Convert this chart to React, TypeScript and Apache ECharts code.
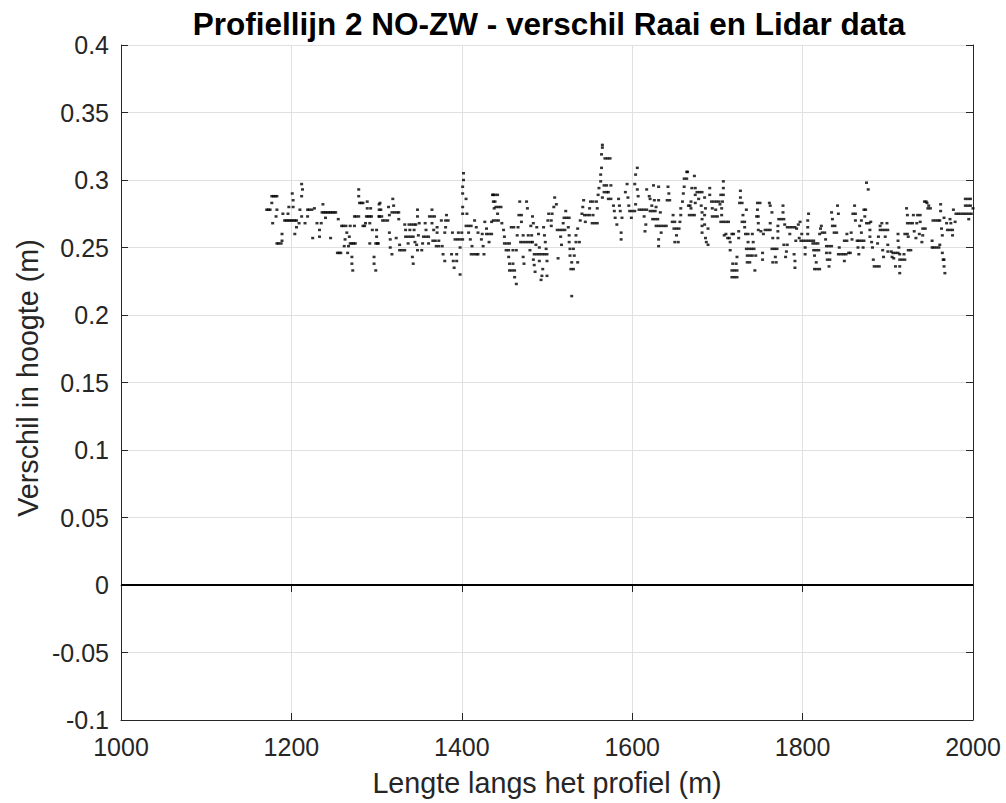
import React, { useEffect, useRef } from "react";
import * as echarts from "echarts";

const titleText = "Profiellijn 2 NO-ZW - verschil Raai en Lidar data";
const xName = "Lengte langs het profiel (m)";
const yName = "Verschil in hoogte (m)";
const xMin = 1000, xMax = 2000, xStep = 200;
const yMin = -0.1, yMax = 0.4, yStep = 0.05;
const zeroLevel = 0;

const seg1 = [
[1171,0.278],[1173,0.278],[1175,0.278],
[1177,0.288],[1179,0.288],[1181,0.288],[1183,0.288],
[1177,0.283],[1178,0.268],[1182,0.273],[1183,0.278],
[1183,0.253],[1185,0.253],[1188,0.253],
[1189,0.255],[1189,0.260],[1190,0.275],
[1192,0.270],[1194,0.270],[1196,0.270],[1198,0.270],[1200,0.270],[1202,0.270],[1204,0.270],[1206,0.270],
[1196,0.275],[1197,0.280],[1201,0.290],[1202,0.285],[1202,0.280],[1204,0.260],[1206,0.265],[1209,0.268],[1210,0.278],
[1212,0.297],[1213,0.293],[1212,0.288],[1212,0.273],[1216,0.268],[1219,0.273],
[1219,0.278],[1221,0.278],[1224,0.278],[1227,0.279],
[1225,0.257],[1230,0.268],[1235,0.268],[1233,0.263],[1233,0.258],[1237,0.282],
[1236,0.276],[1238,0.276],[1240,0.276],[1242,0.276],[1244,0.276],[1246,0.276],[1248,0.276],[1250,0.276],[1252,0.276],
[1240,0.272],[1246,0.257],[1255,0.271],
[1259,0.266],[1261,0.266],[1264,0.266],[1265,0.261],[1263,0.256],[1262,0.251],[1267,0.251],
[1254,0.246],[1256,0.246],[1258,0.246],[1266,0.246],
[1269,0.266],[1274,0.266],[1268,0.258],
[1269,0.253],[1271,0.253],[1273,0.253],[1275,0.253],
[1271,0.243],[1271,0.238],[1272,0.233],
[1274,0.273],[1276,0.273],[1279,0.273],[1279,0.288],[1279,0.293],
[1280,0.283],[1282,0.283],[1284,0.283],[1284,0.266],[1286,0.266],
[1289,0.284],[1289,0.279],[1293,0.279],
[1288,0.273],[1290,0.273],[1292,0.273],[1294,0.273],
[1287,0.268],[1292,0.268],[1292,0.253],[1295,0.263],[1300,0.263],
[1297,0.243],[1297,0.238],[1299,0.233],[1301,0.253],[1303,0.273],[1303,0.278],[1303,0.282]
];

const seg2 = [
[1300,0.258],[1299,0.253],[1302,0.253],[1304,0.283],[1305,0.278],[1303,0.273],[1306,0.273],
[1307,0.270],[1310,0.270],[1313,0.270],[1314,0.280],[1315,0.274],[1315,0.261],[1316,0.256],[1316,0.250],[1318,0.245],
[1319,0.286],[1320,0.281],[1318,0.276],[1321,0.276],[1324,0.276],[1326,0.276],
[1323,0.257],[1326,0.271],[1327,0.252],[1327,0.248],[1330,0.248],[1333,0.248],
[1333,0.267],[1334,0.263],[1334,0.258],[1337,0.253],
[1338,0.267],[1341,0.267],[1344,0.267],[1346,0.267],[1339,0.263],
[1337,0.258],[1340,0.258],[1343,0.258],[1342,0.243],[1343,0.238],[1344,0.263],[1345,0.254],[1347,0.252],
[1348,0.278],[1348,0.273],[1350,0.268],[1349,0.259],[1348,0.248],[1353,0.248],[1354,0.253],
[1357,0.268],[1358,0.263],[1355,0.258],[1358,0.258],[1361,0.258],[1361,0.253],
[1362,0.273],[1365,0.273],[1368,0.273],[1365,0.278],[1365,0.268],[1367,0.263],
[1366,0.255],[1369,0.255],[1373,0.255],[1371,0.261],[1370,0.251],[1373,0.251],[1377,0.251],[1371,0.265],
[1376,0.270],[1378,0.245],[1380,0.240],[1380,0.261],[1381,0.265],[1381,0.270],[1384,0.270],[1382,0.274],
[1388,0.245],[1389,0.261],[1390,0.240],[1394,0.240],[1391,0.235],[1394,0.245],
[1392,0.256],[1395,0.256],[1398,0.256],[1401,0.256],[1396,0.261],[1398,0.250],[1398,0.230],[1400,0.261],
[1401,0.275],[1401,0.280],[1401,0.290],[1401,0.295],[1402,0.300],[1402,0.305],[1405,0.286],[1406,0.275],
[1405,0.266],[1408,0.266],[1411,0.266],[1408,0.261],[1410,0.256],[1412,0.251],
[1411,0.245],[1414,0.245],[1417,0.245],[1419,0.245],[1415,0.270],[1417,0.265],[1419,0.261],
[1423,0.256],[1424,0.260],[1425,0.251],[1426,0.245],[1427,0.269],[1429,0.264],
[1429,0.260],[1432,0.260],[1435,0.260],[1432,0.254],[1435,0.269],[1437,0.284],[1437,0.289],[1438,0.279]
];

const seg3 = [
[1436,0.289],[1439,0.289],[1442,0.289],[1439,0.284],[1440,0.280],[1443,0.280],[1446,0.280],[1442,0.275],
[1437,0.270],[1440,0.270],[1443,0.270],[1447,0.268],[1449,0.263],[1450,0.258],
[1450,0.253],[1453,0.253],[1456,0.253],[1452,0.248],[1455,0.248],[1455,0.243],
[1456,0.238],[1460,0.238],[1456,0.233],[1459,0.233],[1462,0.233],[1462,0.228],[1464,0.223],
[1460,0.248],[1458,0.265],[1461,0.265],[1464,0.248],[1465,0.259],[1466,0.265],[1468,0.284],
[1467,0.274],[1470,0.274],[1470,0.269],[1472,0.259],[1469,0.254],[1472,0.254],[1475,0.254],[1472,0.243],[1473,0.238],
[1478,0.254],[1481,0.254],[1476,0.284],[1477,0.279],[1478,0.259],[1482,0.259],[1480,0.248],[1481,0.266],
[1483,0.273],[1484,0.268],[1483,0.254],[1484,0.241],[1485,0.237],[1486,0.232],[1487,0.252],[1488,0.265],
[1485,0.245],[1488,0.245],[1491,0.245],[1494,0.245],[1497,0.245],
[1490,0.260],[1491,0.250],[1491,0.240],[1493,0.226],[1494,0.229],[1495,0.234],
[1496,0.265],[1497,0.259],[1498,0.254],[1499,0.249],[1500,0.245],[1500,0.240],[1500,0.229],
[1501,0.270],[1505,0.270],[1502,0.275],[1506,0.275],[1505,0.266],[1508,0.280],[1509,0.287],[1511,0.282],[1513,0.242],
[1512,0.263],[1515,0.263],[1518,0.263],[1521,0.263],[1516,0.258],[1517,0.252],[1519,0.268],
[1520,0.272],[1523,0.272],[1526,0.272],[1522,0.277],[1525,0.265],[1526,0.259],[1526,0.254],[1527,0.249],[1527,0.244],
[1529,0.239],[1528,0.234],[1531,0.234],[1529,0.214],[1531,0.249],[1532,0.244],
[1534,0.254],[1534,0.259],[1536,0.264],[1536,0.239],[1538,0.254],[1539,0.270],[1541,0.275],[1542,0.280],[1543,0.285],
[1545,0.269],[1544,0.274],[1547,0.274],[1550,0.274],[1550,0.279],[1551,0.284],[1554,0.284],[1554,0.274],
[1553,0.268],[1556,0.268],[1559,0.268],[1558,0.284],[1559,0.279],[1560,0.289],[1561,0.294],[1563,0.299],[1563,0.304],
[1564,0.309],[1564,0.319],[1565,0.324],[1565,0.326],[1568,0.316],[1571,0.316],[1574,0.316],[1565,0.287],
[1567,0.296],[1570,0.296],[1567,0.291],[1570,0.291],[1572,0.286]
];

const seg4 = [
[1575,0.296],[1572,0.291],[1575,0.286],[1578,0.281],[1579,0.277],[1580,0.272],[1582,0.267],
[1584,0.286],[1585,0.281],[1586,0.277],[1587,0.261],[1587,0.256],[1588,0.272],
[1592,0.291],[1594,0.297],[1595,0.287],[1596,0.281],[1597,0.277],[1600,0.277],[1603,0.277],[1599,0.272],
[1603,0.297],[1604,0.304],[1606,0.309],[1606,0.293],[1607,0.288],[1604,0.282],
[1608,0.278],[1611,0.278],[1614,0.278],[1617,0.278],[1614,0.273],[1616,0.267],[1615,0.262],
[1617,0.293],[1620,0.288],[1621,0.286],[1621,0.277],[1624,0.277],[1627,0.277],[1623,0.281],[1625,0.296],[1626,0.285],
[1624,0.271],[1627,0.271],[1630,0.271],[1628,0.280],[1631,0.295],[1631,0.285],[1633,0.276],
[1628,0.266],[1631,0.266],[1634,0.266],[1637,0.266],[1640,0.266],[1634,0.261],[1631,0.256],[1631,0.251],
[1642,0.295],[1643,0.290],[1641,0.285],[1644,0.285],[1648,0.274],[1647,0.269],[1650,0.269],
[1649,0.264],[1652,0.264],[1655,0.264],[1652,0.259],[1650,0.254],[1654,0.254],
[1656,0.269],[1657,0.274],[1657,0.279],[1659,0.284],[1660,0.290],[1661,0.295],[1661,0.301],[1664,0.301],[1664,0.306],[1665,0.306],
[1666,0.281],[1668,0.281],[1669,0.284],[1667,0.274],[1670,0.274],[1673,0.274],[1669,0.279],[1670,0.294],[1674,0.294],
[1673,0.303],[1674,0.289],[1674,0.283],[1676,0.291],[1679,0.291],[1682,0.291],[1678,0.286],[1681,0.281],
[1682,0.276],[1682,0.271],[1682,0.261],[1682,0.266],[1685,0.287],[1685,0.267],[1686,0.257],[1687,0.254],[1689,0.252],[1689,0.264],
[1685,0.274],[1686,0.279],[1691,0.294],[1691,0.289],[1693,0.284],[1694,0.279],
[1696,0.284],[1699,0.284],[1702,0.284],[1694,0.273],[1697,0.273],[1700,0.273],[1698,0.278],[1703,0.282],
[1707,0.299],[1707,0.294],[1704,0.289],[1707,0.289],[1705,0.279],[1708,0.259]
];

const seg5 = [
[1706,0.284],[1705,0.274],[1704,0.269],[1707,0.269],[1710,0.269],[1713,0.269],[1710,0.260],[1712,0.257],[1714,0.257],
[1715,0.254],[1715,0.248],[1717,0.260],[1719,0.260],[1718,0.238],
[1717,0.233],[1720,0.233],[1723,0.233],[1717,0.228],[1720,0.228],[1723,0.228],[1722,0.238],[1723,0.243],
[1725,0.262],[1725,0.257],[1727,0.292],[1727,0.287],[1726,0.283],[1729,0.283],[1730,0.274],[1729,0.269],[1732,0.269],
[1734,0.278],[1732,0.265],[1733,0.260],[1736,0.260],[1734,0.249],[1737,0.249],[1740,0.249],[1736,0.254],
[1735,0.244],[1738,0.244],[1741,0.244],[1735,0.239],[1738,0.239],[1741,0.260],[1742,0.254],[1743,0.249],[1744,0.233],[1745,0.244],
[1746,0.273],[1748,0.273],[1747,0.278],[1747,0.283],[1750,0.283],[1748,0.268],[1748,0.263],[1751,0.262],
[1753,0.246],[1753,0.241],[1754,0.260],[1756,0.263],[1759,0.263],[1762,0.263],[1761,0.283],[1762,0.281],[1764,0.276],[1762,0.268],
[1765,0.257],[1764,0.249],[1767,0.249],[1770,0.249],[1765,0.239],[1769,0.239],[1768,0.243],
[1771,0.262],[1771,0.257],[1771,0.266],[1772,0.271],[1775,0.271],[1778,0.271],[1777,0.281],[1777,0.276],[1779,0.267],
[1778,0.252],[1782,0.252],[1781,0.247],[1780,0.243],[1785,0.260],[1782,0.265],[1785,0.265],[1788,0.265],[1791,0.265],
[1790,0.245],[1791,0.240],[1791,0.235],[1792,0.255],[1793,0.264],[1795,0.267],[1796,0.257],[1797,0.269],[1799,0.260],
[1798,0.255],[1801,0.255],[1804,0.255],[1803,0.250],[1803,0.245],[1806,0.260],[1806,0.265],[1806,0.270],[1807,0.275],
[1807,0.255],[1810,0.255],[1813,0.255],[1812,0.253],[1815,0.253],[1818,0.253],[1813,0.248],[1816,0.248],[1819,0.248],
[1816,0.239],[1814,0.234],[1817,0.234],[1820,0.234],[1814,0.244],[1820,0.260],[1821,0.264],[1822,0.266],
[1823,0.261],[1826,0.261],[1827,0.256],[1828,0.251],[1831,0.251],[1834,0.251],[1828,0.246],[1832,0.246],
[1829,0.241],[1832,0.241],[1831,0.236],[1834,0.276],[1835,0.271],[1835,0.266],[1838,0.266],[1837,0.261],[1840,0.261],
[1841,0.281],[1842,0.275],[1843,0.250],[1842,0.245],[1845,0.245],[1848,0.245],[1851,0.245],[1849,0.240],
[1849,0.255],[1852,0.255],[1852,0.260],[1854,0.246]
];

const seg6 = [
[1856,0.246],[1857,0.261],[1858,0.256],[1861,0.281],[1859,0.275],[1862,0.275],[1862,0.270],
[1864,0.255],[1866,0.255],[1865,0.250],[1866,0.245],[1867,0.266],[1869,0.261],[1869,0.255],[1872,0.255],[1869,0.270],[1871,0.250],
[1872,0.278],[1874,0.278],[1873,0.273],[1875,0.298],[1877,0.293],[1875,0.268],[1878,0.268],[1879,0.263],[1879,0.258],[1880,0.269],
[1881,0.254],[1882,0.250],[1883,0.241],[1884,0.236],[1887,0.236],[1890,0.236],[1888,0.253],[1889,0.258],[1891,0.263],[1891,0.266],
[1893,0.268],[1894,0.248],[1895,0.243],[1894,0.263],[1897,0.263],[1900,0.263],[1897,0.258],[1899,0.268],[1900,0.252],
[1900,0.247],[1904,0.247],[1905,0.243],[1907,0.242],[1906,0.246],[1909,0.246],[1912,0.246],[1909,0.236],
[1912,0.260],[1912,0.255],[1913,0.250],[1914,0.241],[1917,0.241],[1920,0.241],[1914,0.236],[1914,0.231],[1914,0.245],[1919,0.245],
[1920,0.260],[1923,0.260],[1922,0.279],[1923,0.274],[1923,0.268],[1926,0.268],[1929,0.268],[1924,0.258],[1924,0.248],[1927,0.248],
[1930,0.274],[1931,0.262],[1933,0.257],[1934,0.268],[1935,0.274],[1938,0.274],[1937,0.260],[1938,0.269],[1940,0.254],[1941,0.259],
[1941,0.264],[1944,0.264],[1943,0.284],[1945,0.284],[1946,0.283],[1947,0.279],[1948,0.281],[1950,0.279],
[1952,0.255],[1952,0.250],[1954,0.250],[1953,0.270],[1956,0.270],[1959,0.270],[1961,0.270],[1957,0.250],[1960,0.250],[1961,0.252],
[1962,0.282],[1962,0.277],[1963,0.264],[1964,0.259],[1964,0.246],[1965,0.241],[1966,0.241],[1966,0.236],[1967,0.231],[1966,0.272],
[1969,0.268],[1970,0.263],[1973,0.263],[1976,0.263],[1973,0.271],[1974,0.268],[1976,0.259],[1977,0.278],[1979,0.269],
[1980,0.275],[1983,0.275],[1986,0.275],[1989,0.275],[1992,0.275],[1995,0.275],[1998,0.275],
[1991,0.286],[1994,0.286],[1997,0.286],[1991,0.281],[1994,0.281],[1997,0.281],[1995,0.271],[2000,0.279]
];

const FONT = "'Liberation Sans', Arial, Helvetica, sans-serif";
const AX = "#262626";

export default function App() {
  const ref = useRef<HTMLDivElement>(null);
  useEffect(() => {
    document.body.style.margin = "0";
    const chart = echarts.init(ref.current!, null, { renderer: "svg" });
    const points = [...seg1, ...seg2, ...seg3, ...seg4, ...seg5, ...seg6];
    const hiddenAxis = {
      axisLine: { show: true, lineStyle: { color: AX, width: 1 } },
      axisTick: { show: true, inside: true, length: 7, lineStyle: { color: AX } },
      axisLabel: { show: false },
      splitLine: { show: false },
    };
    chart.setOption({
      animation: false,
      backgroundColor: "#ffffff",
      title: {
        text: titleText,
        left: 544,
        top: 3,
        textAlign: "center",
        textStyle: { fontFamily: FONT, fontSize: 31.5, fontWeight: "bold", color: "#000" },
      },
      graphic: [
        {
          type: "text",
          x: 28,
          y: 378,
          rotation: Math.PI / 2,
          style: {
            text: yName,
            fontFamily: FONT,
            fontSize: 28.7,
            fill: AX,
            textAlign: "center",
            textVerticalAlign: "middle",
          },
        },
      ],
      grid: { left: 121, right: 33, top: 45, bottom: 83, containLabel: false },
      xAxis: [
        {
          type: "value",
          min: xMin,
          max: xMax,
          interval: xStep,
          name: xName,
          nameLocation: "middle",
          nameGap: 48,
          nameTextStyle: { fontFamily: FONT, fontSize: 28.7, color: AX },
          axisLine: { show: true, onZero: false, lineStyle: { color: AX, width: 1 } },
          axisTick: { show: true, inside: true, length: 7, lineStyle: { color: AX } },
          axisLabel: {
            fontFamily: FONT,
            fontSize: 25,
            color: AX,
            margin: 14,
            formatter: (v: number) => String(v),
          },
          splitLine: { show: true, lineStyle: { color: "#e0e0e0", width: 1 } },
        },
        { type: "value", min: xMin, max: xMax, interval: xStep, position: "top", ...hiddenAxis },
      ],
      yAxis: [
        {
          type: "value",
          min: yMin,
          max: yMax,
          interval: yStep,
          axisLine: { show: true, onZero: false, lineStyle: { color: AX, width: 1 } },
          axisTick: { show: true, inside: true, length: 7, lineStyle: { color: AX } },
          axisLabel: {
            fontFamily: FONT,
            fontSize: 25,
            color: AX,
            margin: 12,
            formatter: (v: number) => String(parseFloat(v.toFixed(2))),
          },
          splitLine: { show: true, lineStyle: { color: "#e0e0e0", width: 1 } },
        },
        { type: "value", min: yMin, max: yMax, interval: yStep, position: "right", ...hiddenAxis },
      ],
      series: [
        {
          type: "scatter",
          data: points,
          symbol: "rect",
          symbolSize: [3, 2.5],
          itemStyle: { color: "#000" },
          silent: true,
          markLine: {
            silent: true,
            symbol: ["none", "none"],
            label: { show: false },
            lineStyle: { color: "#000", width: 2, type: "solid" },
            data: [{ yAxis: zeroLevel }],
          },
        },
      ],
    });
    return () => chart.dispose();
  }, []);
  return <div ref={ref} style={{ width: 1006, height: 803, position: "absolute", left: 0, top: 0 }} />;
}
